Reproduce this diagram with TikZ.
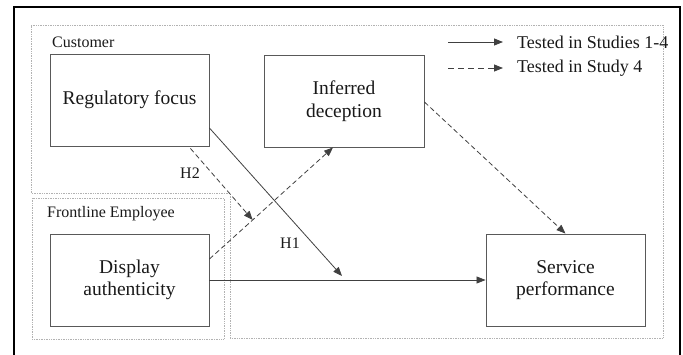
\documentclass[tikz,border=0pt]{standalone}
\usepackage{fontspec}
\setmainfont{Liberation Serif}
\usetikzlibrary{arrows.meta,calc}
\begin{document}
\begin{tikzpicture}[x=1pt,y=-1pt,
 region/.style={draw=gray!60, densely dotted, line width=0.7pt},
 varbox/.style={draw=black!65, line width=0.9pt, minimum width=159pt, minimum height=92pt, inner sep=0pt, align=center, font=\fontsize{19.5}{22.5}\selectfont, text=black!90},
 lbl/.style={inner sep=0pt, font=\fontsize{16}{19}\selectfont, text=black!90},
 leg/.style={inner sep=0pt, anchor=west, font=\fontsize{18}{21}\selectfont, text=black!90},
 conn/.style={draw=black!75, line width=0.8pt, -{Triangle[length=9pt,width=7pt]}},
 dconn/.style={conn, dash pattern=on 5pt off 3pt}
]
\useasboundingbox (0,0) rectangle (683,354);
% outer frame (open at bottom)
\draw[line width=2.6pt] (14,356) -- (14,7) -- (680,7) -- (680,356);
% regions
\draw[region] (31,25) -- (663,25) -- (663,338) -- (230,338) -- (230,193) -- (31,193) -- cycle;
\draw[region] (32,198) rectangle (224,339);
\node[lbl, anchor=west] (cust) at (52,42) {Customer};
\node[lbl, anchor=west] (fle) at (47,214) {Frontline Employee};
% variables
\node[varbox] (rf) at (129.5,100) {Regulatory focus};
\node[varbox, minimum width=160pt] (id) at (344,101) {Inferred\\deception};
\node[varbox] (da) at (129.5,280) {Display\\authenticity};
\node[varbox] (sp) at (565.5,280) {Service\\performance};
% connectors
\coordinate (h1s) at ([yshift=-28pt]rf.east);
\coordinate (h1e) at (342,276);
\draw[conn] (h1s) -- (h1e);
\draw[conn] (da.east) -- (sp.west);
\coordinate (das) at ([yshift=21pt]da.east);
\coordinate (ide) at ([xshift=-11pt]id.south);
\draw[dconn] (das) -- (ide);
\coordinate (h2s) at ([xshift=-19pt,yshift=-2pt]rf.south east);
\coordinate (h2e) at ($(das)!0.35!(ide)$);
\draw[dconn] (h2s) -- (h2e);
\coordinate (ids) at ([yshift=-1pt]id.east);
\draw[dconn] (ids) -- (sp.north);
\node[lbl] (h2) at (190,173) {H2};
\node[lbl] (h1) at (290,243) {H1};
% legend
\node[leg] (l1) at (517,42) {Tested in Studies 1-4};
\node[leg] (l2) at (517,68) {Tested in Study 4};
\coordinate (l1a) at (448,42);
\coordinate (l2a) at (448,68);
\draw[conn] (l1a) -- ([xshift=-14pt]l1.west);
\draw[conn, dash pattern=on 6pt off 4pt] (l2a) -- ([xshift=-14pt]l2.west);
\end{tikzpicture}
\end{document}
